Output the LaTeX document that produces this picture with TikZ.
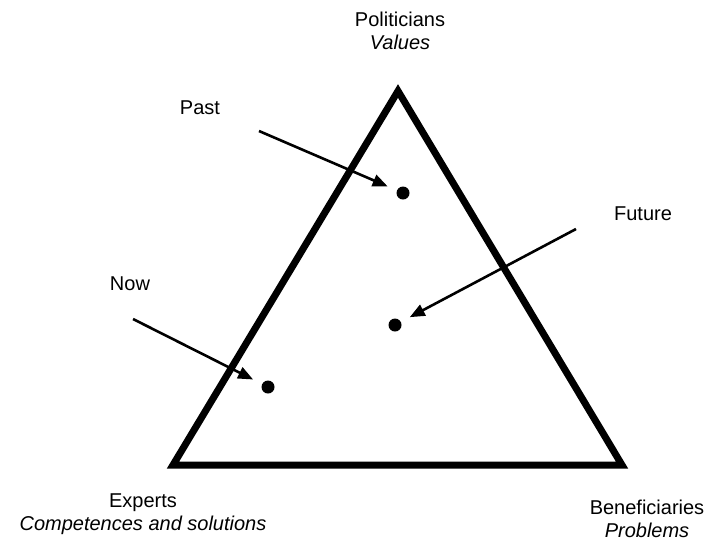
\documentclass[tikz,border=0pt]{standalone}
\usepackage{fontspec}
\setmainfont{Liberation Sans}
\usetikzlibrary{arrows.meta}
\begin{document}
\begin{tikzpicture}[x=1pt,y=-1pt,
  lbl/.style={font=\fontsize{20}{23.5}\selectfont, align=center, inner sep=0pt},
  pt/.style={circle, fill=black, minimum size=13pt, inner sep=0pt},
  arr/.style={line width=2.6pt, -{Triangle[length=15pt,width=12pt]}, shorten >=10pt}]
\useasboundingbox (0,0) rectangle (708,542);
\coordinate (T) at (398,91);
\coordinate (L) at (173,465);
\coordinate (R) at (622,465);
\draw[line width=7pt, line join=miter] (T) -- (L) -- (R) -- cycle;

\node[lbl] (pol) at (400,31) {Politicians\\\textit{Values}};
\node[lbl] (exp) at (143,514) {Experts\\\textit{Competences and solutions}};
\node[lbl] (ben) at (647,519) {Beneficiaries\\\textit{Problems}};
\node[lbl] (past) at (200,108) {Past};
\node[lbl] (fut) at (643,214) {Future};
\node[lbl] (now) at (130,284) {Now};

\node[pt] (dpast) at (403,193) {};
\node[pt] (dfut) at (395,325) {};
\node[pt] (dnow) at (268,387) {};

\coordinate (spast) at (259,131);
\coordinate (sfut) at (576,229);
\coordinate (snow) at (133,319);
\draw[arr] (spast) -- (dpast);
\draw[arr] (sfut) -- (dfut);
\draw[arr] (snow) -- (dnow);
\end{tikzpicture}
\end{document}
